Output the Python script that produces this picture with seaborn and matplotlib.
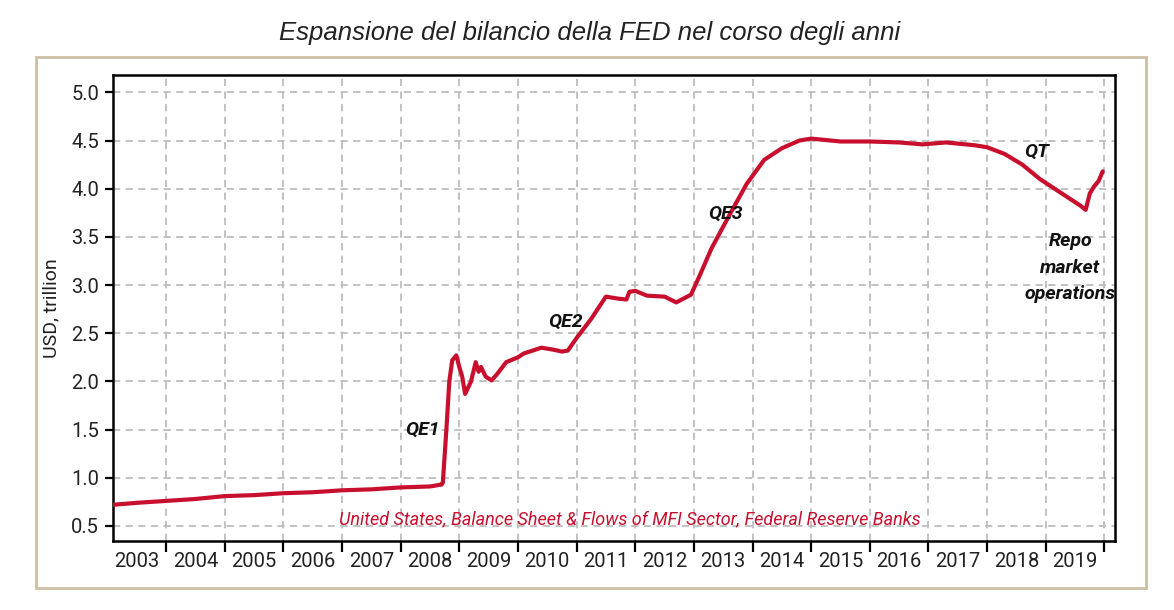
import matplotlib
matplotlib.use("Agg")
import matplotlib.pyplot as plt
from matplotlib.patches import Rectangle
import numpy as np
import pandas as pd
import seaborn as sns

# ---- data ----
years = [2003.10, 2003.5, 2004.0, 2004.5, 2005.0, 2005.5, 2006.0, 2006.5, 2007.0, 2007.5,
         2008.0, 2008.5, 2008.70, 2008.72, 2008.78, 2008.83, 2008.88, 2008.95, 2009.0, 2009.05,
         2009.10, 2009.2, 2009.28, 2009.33, 2009.37, 2009.45, 2009.55, 2009.65, 2009.80, 2010.0,
         2010.1, 2010.4, 2010.6, 2010.75, 2010.85, 2011.0, 2011.25, 2011.5, 2011.7, 2011.85,
         2011.9, 2012.0, 2012.2, 2012.5, 2012.7, 2012.95, 2013.1, 2013.3, 2013.6, 2013.9,
         2014.2, 2014.5, 2014.8, 2015.0, 2015.5, 2016.0, 2016.5, 2016.9, 2017.3, 2017.8,
         2018.0, 2018.3, 2018.6, 2018.9, 2019.1, 2019.35, 2019.6, 2019.68, 2019.75, 2019.82,
         2019.9, 2019.97]
usd_trillion = [0.72, 0.74, 0.76, 0.78, 0.81, 0.82, 0.84, 0.85, 0.87, 0.88,
                0.90, 0.91, 0.93, 0.95, 1.50, 2.00, 2.22, 2.27, 2.15, 2.05,
                1.87, 2.00, 2.20, 2.10, 2.15, 2.05, 2.01, 2.08, 2.20, 2.25,
                2.29, 2.35, 2.33, 2.31, 2.32, 2.45, 2.65, 2.88, 2.86, 2.85,
                2.93, 2.94, 2.89, 2.88, 2.82, 2.90, 3.10, 3.38, 3.72, 4.05,
                4.30, 4.42, 4.50, 4.52, 4.49, 4.49, 4.48, 4.46, 4.48, 4.45,
                4.43, 4.36, 4.25, 4.10, 4.02, 3.92, 3.82, 3.78, 3.95, 4.02,
                4.08, 4.18]
year_labels = [str(y) for y in range(2003, 2020)]
y_ticks = [0.5, 1.0, 1.5, 2.0, 2.5, 3.0, 3.5, 4.0, 4.5, 5.0]

annotations = [("QE1", 2008.37, 1.50), ("QE2", 2010.82, 2.62), ("QE3", 2013.54, 3.74),
               ("QT", 2018.85, 4.38), ("Repo\nmarket\noperations", 2019.42, 3.18)]
source_text = "United States, Balance Sheet & Flows of MFI Sector, Federal Reserve Banks"
title = "Espansione del bilancio della FED nel corso degli anni"

df = pd.DataFrame({"year": years, "value": usd_trillion})

sns.set_theme(style="white")
plt.rcParams["font.family"] = ["Roboto", "DejaVu Sans"]

fig = plt.figure(figsize=(11.74, 6.10), dpi=100)
fig.patch.set_facecolor("white")
ax = fig.add_axes([113 / 1174, 1 - 541 / 610, (1115 - 113) / 1174, (541 - 75) / 610])

# outer beige frame
fig.patches.append(Rectangle((36 / 1174, 1 - 588 / 610), (1146 - 36) / 1174, (588 - 57) / 610,
                             transform=fig.transFigure, fill=False, edgecolor="#CBBFA6",
                             linewidth=2.0, zorder=0))

red = "#C8102E"
sns.lineplot(data=df, x="year", y="value", ax=ax, color=red, linewidth=3.0, zorder=3)

ax.set_xlim(2003.096, 2020.18)
ax.set_ylim(0.344, 5.18)

# major ticks at year boundaries, labels in the middle of each year
major = list(range(2004, 2021))
ax.set_xticks(major)
ax.set_xticklabels([])
ax.set_xticks([int(l) + 0.5 for l in year_labels], minor=True)
ax.set_xticklabels(year_labels, minor=True)
ax.tick_params(axis="x", which="major", direction="out", length=8, width=1.6, color="black",
               bottom=True)
ax.tick_params(axis="x", which="minor", length=0, labelsize=14.5, labelcolor="#222222", pad=8)
ax.set_yticks(y_ticks)
ax.set_yticklabels([f"{v:.1f}" for v in y_ticks])
ax.tick_params(axis="y", which="major", direction="out", length=6, width=1.6, color="black",
               left=True, labelsize=14.5, labelcolor="#222222", pad=4)

ax.grid(True, which="major", color="#BDBDBD", linestyle=(0, (4, 3)), linewidth=1.3, zorder=0)
ax.set_axisbelow(True)
for s in ax.spines.values():
    s.set_visible(True)
    s.set_color("black")
    s.set_linewidth(1.8)

ax.set_xlabel("")
ax.set_ylabel("USD, trillion", fontsize=14, color="#222222", labelpad=8)

for txt, xx, yy in annotations:
    ax.text(xx, yy, txt, fontsize=14, style="italic", fontweight="semibold", color="#111111",
            ha="center", va="center", linespacing=1.6, zorder=4)

ax.text(2011.9, 0.565, source_text, fontsize=13, style="italic", color=red,
        ha="center", va="center", zorder=4)

fig.text(590 / 1174, 1 - 33 / 610, title, fontsize=18.5, style="italic",
         family=["Liberation Sans", "DejaVu Sans"], color="#222222", ha="center", va="center")

fig.savefig("out.png", dpi=100, facecolor="white")
